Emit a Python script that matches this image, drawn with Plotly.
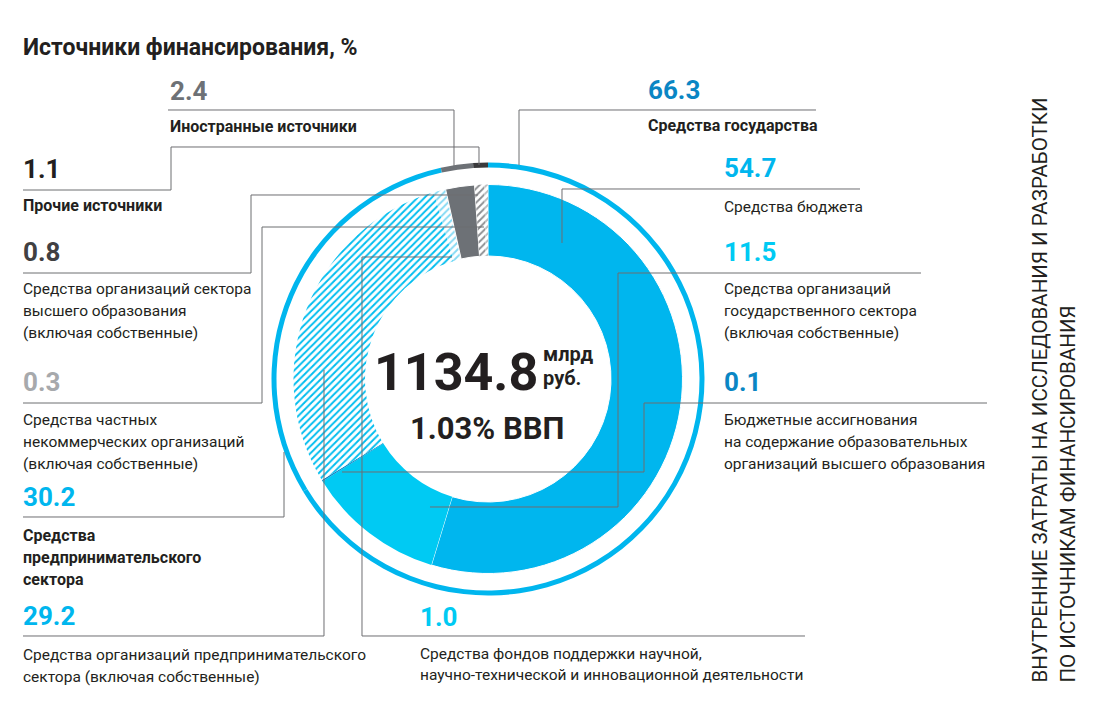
import plotly.graph_objects as go

W, H = 1099, 711

# ---------------- data ----------------
title_text = "Источники финансирования, %"
side_title = ["ВНУТРЕННИЕ ЗАТРАТЫ НА ИССЛЕДОВАНИЯ И РАЗРАБОТКИ", "ПО ИСТОЧНИКАМ ФИНАНСИРОВАНИЯ"]
total_value = "1134.8"
total_unit = ["млрд", "руб."]
gdp_share = "1.03% ВВП"

outer_labels = ["Средства государства", "Средства предпринимательского сектора",
                "Иностранные источники", "Прочие источники"]
outer_values = [66.3, 30.2, 2.4, 1.1]

inner_labels = ["Средства бюджета",
                "Средства организаций государственного сектора (включая собственные)",
                "Бюджетные ассигнования на содержание образовательных организаций высшего образования",
                "Средства организаций предпринимательского сектора (включая собственные)",
                "Средства фондов поддержки научной, научно-технической и инновационной деятельности",
                "Иностранные источники",
                "Средства организаций сектора высшего образования (включая собственные)",
                "Средства частных некоммерческих организаций (включая собственные)"]
inner_values = [54.7, 11.5, 0.1, 29.2, 1.0, 2.4, 0.8, 0.3]

# label texts (lines) for the callouts
desc_budget = ["Средства бюджета"]
desc_govorg = ["Средства организаций", "государственного сектора", "(включая собственные)"]
desc_alloc = ["Бюджетные ассигнования", "на содержание образовательных", "организаций высшего образования"]
desc_bizorg = ["Средства организаций предпринимательского", "сектора (включая собственные)"]
desc_funds = ["Средства фондов поддержки научной,", "научно-технической и инновационной деятельности"]
desc_higher = ["Средства организаций сектора", "высшего образования", "(включая собственные)"]
desc_npo = ["Средства частных", "некоммерческих организаций", "(включая собственные)"]
desc_gov = ["Средства государства"]
desc_biz = ["Средства", "предпринимательского", "сектора"]
desc_foreign = ["Иностранные источники"]
desc_other = ["Прочие источники"]

# ---------------- styles ----------------
BLUE = "#00B6EE"
BLUE2 = "#00CAF3"
DBLUE = "#0A86C4"
GRAY = "#6D7176"
DARK = "#231F20"
LINE = "#6D6E71"
NUM_FONT = "Roboto, Liberation Sans, sans-serif"
TXT_FONT = "Roboto, Noto Sans, sans-serif"


def X(px):
    return px / W


def Y(py):
    return 1 - py / H


cx, cy = 488, 379
R_out, r_out_in = 216.5, 211.5
R_in, r_in_hole = 194.5, 123.0

fig = go.Figure()

fig.add_trace(go.Pie(
    labels=outer_labels, values=outer_values, sort=False, direction="clockwise", rotation=0,
    hole=r_out_in / R_out, textinfo="none", hoverinfo="label+value",
    marker=dict(colors=[BLUE, BLUE, GRAY, "#3A3A3C"], line=dict(width=0)),
    domain=dict(x=[X(cx - R_out), X(cx + R_out)], y=[Y(cy + R_out), Y(cy - R_out)]),
    showlegend=False,
))

fig.add_trace(go.Pie(
    labels=inner_labels, values=inner_values, sort=False, direction="clockwise", rotation=0,
    hole=r_in_hole / R_in, textinfo="none", hoverinfo="label+value",
    marker=dict(
        colors=[BLUE, BLUE2, DBLUE, "white", "white", GRAY, "white", "white"],
        line=dict(width=[1, 0, 0, 0, 0, 1, 0, 0], color="white"),
        pattern=dict(
            shape=["", "", "", "/", "/", "", "/", "/"],
            fgcolor=[BLUE, BLUE2, DBLUE, "#00BDEF", "#86DAF4", GRAY, "#8C8E91", "#B9BBBD"],
            bgcolor=[BLUE, BLUE2, DBLUE, "white", "white", GRAY, "white", "white"],
            size=5, solidity=0.38, fillmode="replace",
        ),
    ),
    domain=dict(x=[X(cx - R_in), X(cx + R_in)], y=[Y(cy + R_in), Y(cy - R_in)]),
    showlegend=False,
))

# ---------------- leader lines ----------------
leaders = [
    [(168, 110), (454, 110), (454, 166)],
    [(23, 190), (171, 190), (171, 147), (479, 147), (479, 165)],
    [(23, 273), (251, 273), (251, 195), (478, 195)],
    [(23, 403), (262, 403), (262, 227), (484, 227)],
    [(23, 517), (284, 517), (284, 452)],
    [(23, 636), (324, 636), (324, 370)],
    [(805, 636), (362, 636), (362, 257), (452, 257)],
    [(816, 110), (519, 110), (519, 165)],
    [(860, 189), (562, 189), (562, 243)],
    [(921, 273), (618, 273), (618, 507), (430, 507)],
    [(987, 403), (644, 403), (644, 472), (342, 472)],
]
shapes = []
for pts in leaders:
    path = "M " + " L ".join(f"{X(a):.5f},{Y(b):.5f}" for a, b in pts)
    shapes.append(dict(type="path", path=path, xref="paper", yref="paper",
                       line=dict(color=LINE, width=1), layer="above"))

ann = []


def txt(x, y, s, size, color=DARK, bold=False, family=TXT_FONT, anchor="left"):
    ann.append(dict(x=X(x), y=Y(y), xref="paper", yref="paper", text=(f"<b>{s}</b>" if bold else s),
                    showarrow=False, xanchor=anchor, yanchor="middle",
                    font=dict(size=size, color=color, family=family)))


def num(x, y, v, color):
    txt(x, y, f"{v:.1f}", 26, color, True, NUM_FONT)


def lines(x, y0, arr, bold=False, step=22, size=15.5):
    for i, s in enumerate(arr):
        txt(x, y0 + i * step, s, size + (0.5 if bold else 0), DARK, bold)


txt(21, 48, title_text, 23, DARK, True)

# left side
num(168, 91, outer_values[2], GRAY)
lines(168, 126, desc_foreign, bold=True)
num(21, 169, outer_values[3], DARK)
lines(21, 206, desc_other, bold=True)
num(21, 252, inner_values[6], "#414042")
lines(21, 289, desc_higher)
num(21, 382, inner_values[7], "#A7A9AC")
lines(21, 420, desc_npo)
num(21, 497, outer_values[1], BLUE)
lines(21, 535, desc_biz, bold=True)
num(21, 616, inner_values[3], BLUE)
lines(21, 655, desc_bizorg)

# bottom
num(418, 617, inner_values[4], BLUE2)
lines(418, 654, desc_funds, step=21)

# right side
num(646, 90, outer_values[0], DBLUE)
lines(646, 125, desc_gov, bold=True)
num(722, 168, inner_values[0], BLUE)
lines(722, 207, desc_budget)
num(722, 252, inner_values[1], BLUE2)
lines(722, 289, desc_govorg)
num(722, 382, inner_values[2], DBLUE)
lines(722, 420, desc_alloc)

# center
txt(456, 372, total_value, 52, DARK, True, NUM_FONT, anchor="center")
txt(541, 354, total_unit[0], 20, DARK, True)
txt(541, 378, total_unit[1], 20, DARK, True)
txt(487, 428, gdp_share, 31, DARK, True, NUM_FONT, anchor="center")

# vertical side title
for i, s in enumerate(side_title):
    ann.append(dict(x=X(1039 + i * 28), y=Y(685), xref="paper", yref="paper", text=s,
                    showarrow=False, xanchor="center", yanchor="bottom", textangle=-90,
                    font=dict(size=20.5, color=DARK, family=TXT_FONT)))

fig.update_layout(
    width=W, height=H, margin=dict(l=0, r=0, t=0, b=0),
    paper_bgcolor="white", plot_bgcolor="white",
    shapes=shapes, annotations=ann, showlegend=False,
)

fig.write_html("out.html", config={"displayModeBar": False},
               post_script="document.body.style.margin='0';")
